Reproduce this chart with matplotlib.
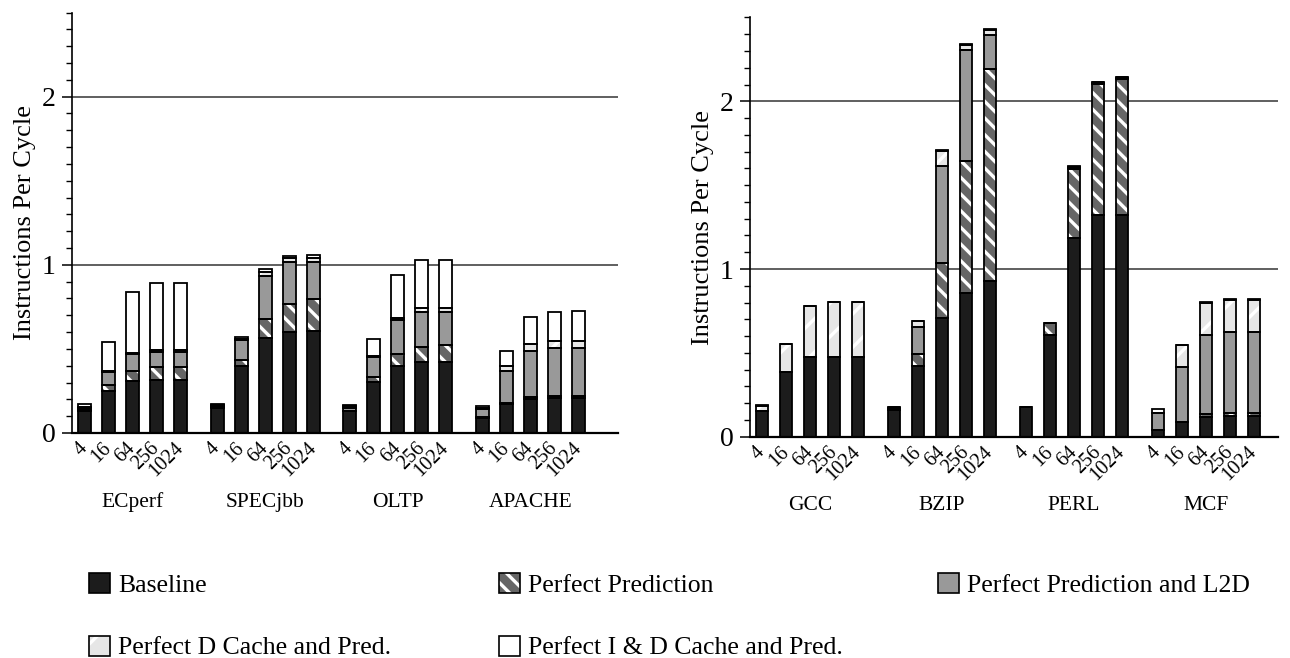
import numpy as np
import matplotlib
matplotlib.use("Agg")
from matplotlib import pyplot as plt
from matplotlib.patches import Patch

plt.rcParams["font.family"] = ["Liberation Serif", "DejaVu Serif"]
plt.rcParams["hatch.linewidth"] = 2.4

sizes = ["4", "16", "64", "256", "1024"]

# commercial workloads (left panel), cumulative IPC per configuration
left_groups = ["ECperf", "SPECjbb", "OLTP", "APACHE"]
left_baseline = [0.129, 0.252, 0.306, 0.315, 0.315,
                 0.147, 0.399, 0.563, 0.603, 0.607,
                 0.131, 0.304, 0.399, 0.421, 0.421,
                 0.091, 0.173, 0.200, 0.206, 0.206]
left_pred = [0.135, 0.286, 0.371, 0.395, 0.395,
             0.152, 0.435, 0.677, 0.766, 0.798,
             0.133, 0.335, 0.470, 0.514, 0.524,
             0.093, 0.176, 0.212, 0.222, 0.222]
left_l2d = [0.147, 0.361, 0.468, 0.484, 0.484,
            0.158, 0.550, 0.935, 1.014, 1.014,
            0.147, 0.450, 0.673, 0.718, 0.718,
            0.141, 0.371, 0.488, 0.504, 0.504]
left_dcache = [0.155, 0.367, 0.478, 0.494, 0.494,
               0.165, 0.558, 0.960, 1.040, 1.040,
               0.158, 0.458, 0.685, 0.742, 0.742,
               0.147, 0.399, 0.528, 0.548, 0.548]
left_idcache = [0.175, 0.540, 0.841, 0.893, 0.893,
                0.171, 0.573, 0.974, 1.054, 1.056,
                0.167, 0.558, 0.942, 1.028, 1.028,
                0.161, 0.488, 0.692, 0.718, 0.724]

# SPEC int workloads (right panel)
right_groups = ["GCC", "BZIP", "PERL", "MCF"]
right_baseline = [0.155, 0.384, 0.473, 0.477, 0.477,
                  0.159, 0.421, 0.706, 0.859, 0.928,
                  0.176, 0.608, 1.183, 1.322, 1.322,
                  0.038, 0.087, 0.117, 0.123, 0.123]
right_pred = [0.155, 0.384, 0.473, 0.477, 0.477,
              0.162, 0.493, 1.034, 1.646, 2.193,
              0.176, 0.681, 1.594, 2.103, 2.134,
              0.040, 0.089, 0.133, 0.143, 0.143]
right_l2d = [0.155, 0.384, 0.473, 0.477, 0.477,
             0.170, 0.652, 1.614, 2.306, 2.394,
             0.176, 0.681, 1.605, 2.110, 2.140,
             0.139, 0.416, 0.604, 0.622, 0.622]
right_dcache = [0.185, 0.553, 0.781, 0.805, 0.805,
                0.176, 0.688, 1.705, 2.338, 2.425,
                0.176, 0.681, 1.610, 2.115, 2.142,
                0.143, 0.545, 0.795, 0.818, 0.818]
right_idcache = [0.191, 0.553, 0.781, 0.805, 0.805,
                 0.179, 0.692, 1.709, 2.342, 2.429,
                 0.176, 0.681, 1.614, 2.117, 2.144,
                 0.168, 0.549, 0.802, 0.822, 0.822]

series_names = ["Baseline", "Perfect Prediction", "Perfect Prediction and L2D",
                "Perfect D Cache and Pred.", "Perfect I & D Cache and Pred."]
# (face, hatch)
styles = [("#1c1c1c", None), ("#666666", "\\\\"), ("#999999", None),
          ("#e6e6e6", "/"), ("#ffffff", None)]

BAR_W = 0.54


def draw_panel(ax, groups, series, xlim):
    x = np.array([g * 5.5 + i for g in range(len(groups)) for i in range(len(sizes))])
    prev = np.zeros(len(x))
    for vals, (fc, hatch) in zip(series, styles):
        vals = np.array(vals)
        h = vals - prev
        if hatch:
            ax.bar(x, h, bottom=prev, width=BAR_W, color=fc, edgecolor="white",
                   hatch=hatch, linewidth=0, zorder=2)
        else:
            ax.bar(x, h, bottom=prev, width=BAR_W, color=fc, linewidth=0, zorder=2)
        ax.bar(x, h, bottom=prev, width=BAR_W, fill=False, edgecolor="black",
               linewidth=1.3, zorder=3)
        prev = vals

    ax.set_xlim(*xlim)
    ax.set_ylim(0, 2.5)
    ax.set_yticks([0, 1, 2])
    ax.set_yticks(np.arange(0, 2.51, 0.1), minor=True)
    ax.tick_params(axis="y", which="major", length=7, width=1.1, labelsize=20, pad=5)
    ax.tick_params(axis="y", which="minor", length=4, width=1.0)
    ax.yaxis.grid(True, which="major", color="#444444", linewidth=1.2)
    ax.set_axisbelow(True)
    ax.set_ylabel("Instructions Per Cycle", fontsize=19)

    ax.set_xticks(x)
    ax.set_xticklabels(sizes * len(groups), rotation=45, ha="right", va="center",
                       rotation_mode="anchor", fontsize=14.5)
    ax.tick_params(axis="x", length=0, pad=9)

    for g, name in enumerate(groups):
        ax.text(g * 5.5 + 2, -0.165, name, transform=ax.get_xaxis_transform(),
                ha="center", va="center", fontsize=15.5)

    for s in ["top", "right"]:
        ax.spines[s].set_visible(False)
    ax.spines["left"].set_linewidth(1.2)
    ax.spines["bottom"].set_linewidth(1.6)


fig = plt.figure(figsize=(12.9, 6.58), dpi=100)
ax1 = fig.add_axes([0.0558, 0.342, 0.4233, 0.639])
ax2 = fig.add_axes([0.5814, 0.3363, 0.4093, 0.6372])

draw_panel(ax1, left_groups,
           [left_baseline, left_pred, left_l2d, left_dcache, left_idcache],
           (-0.52, 22.14))
draw_panel(ax2, right_groups,
           [right_baseline, right_pred, right_l2d, right_dcache, right_idcache],
           (-0.5, 21.5))

# legend, laid out in three columns
handles = []
for fc, hatch in styles:
    if hatch:
        inner = Patch(facecolor=fc, edgecolor="white", hatch=hatch, linewidth=0)
    else:
        inner = Patch(facecolor=fc, linewidth=0)
    handles.append((inner, Patch(fill=False, edgecolor="black", linewidth=1.2)))

columns = [([0, 3], 0.069), ([1, 4], 0.387), ([2], 0.727)]
for idx, xpos in columns:
    fig.legend([handles[i] for i in idx], [series_names[i] for i in idx],
               loc="upper left", bbox_to_anchor=(xpos, 0.129), frameon=False,
               fontsize=18.5, handlelength=0.82, handleheight=0.82,
               handletextpad=0.3, labelspacing=1.5, borderpad=0, borderaxespad=0)

fig.savefig("out.png", dpi=100)
